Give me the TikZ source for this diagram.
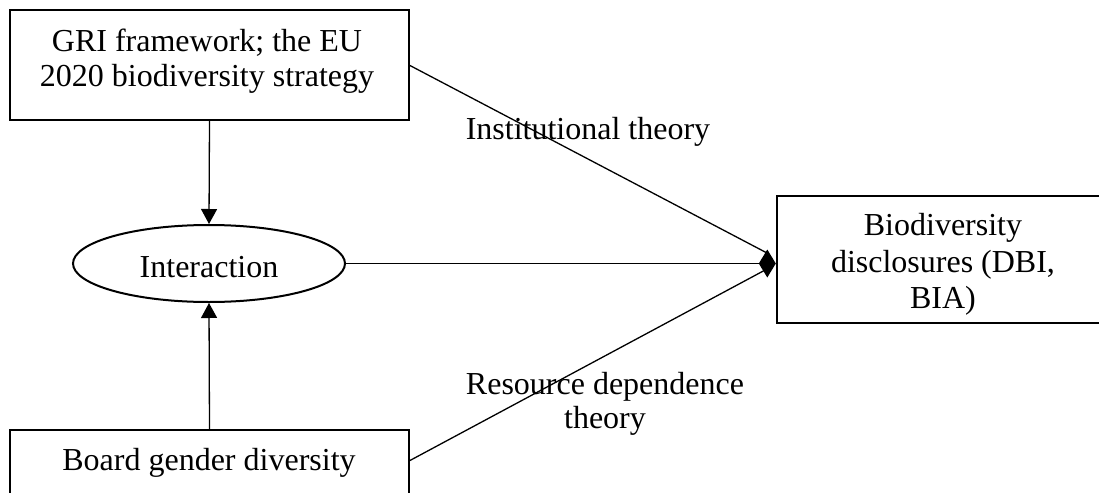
\documentclass[tikz,border=0pt]{standalone}
\usepackage{fontspec}
\setmainfont{Liberation Serif}
\usetikzlibrary{shapes.geometric,arrows.meta}
\begin{document}
\begin{tikzpicture}[x=0.5pt,y=-0.5pt,
  boxshape/.style={draw,line width=1.2pt,rectangle,inner sep=0pt},
  txt/.style={font=\fontsize{16pt}{18pt}\selectfont,inner sep=0pt,anchor=base},
  conn/.style={line width=0.65pt},
  vtip/.style={-{Triangle[length=7.5pt,width=8pt]}},
  dtip/.style={-{Diamond[length=8.5pt,width=14pt]}}]
\useasboundingbox (0,0) rectangle (1099,493);
\begin{scope}
\clip (0,0) rectangle (1099,493);
% boxes
\node[boxshape,minimum width=199.5pt,minimum height=55pt] (gri) at (209.5,65) {};
\node[boxshape,minimum width=166.5pt,minimum height=63.5pt] (bd) at (943.5,259.5) {};
\node[boxshape,minimum width=199.5pt,minimum height=55pt] (bg) at (209.5,485) {};
\node[draw,ellipse,line width=1pt,minimum width=136pt,minimum height=38.5pt,inner sep=0pt] (int) at (209,263.5) {};
\end{scope}
% texts
\node[txt] (gri1) at (207,51) {GRI framework; the EU};
\node[txt] (gri2) at (207,86) {2020 biodiversity strategy};
\node[txt] (intt) at (209,277) {Interaction};
\node[txt] (bgt) at (209,470) {Board gender diversity};
\node[txt] (bd1) at (943,235) {Biodiversity};
\node[txt] (bd2) at (943,272) {disclosures (DBI,};
\node[txt] (bd3) at (943,308) {BIA)};
\node[txt] (inst) at (588,139) {Institutional theory};
\node[txt] (rd1) at (605,394) {Resource dependence};
\node[txt] (rd2) at (605,428) {theory};
% connectors
\coordinate (s1) at (409,65);
\coordinate (s2) at (409,461);
\coordinate (j1) at (767,253);
\coordinate (j2) at (767,269);
\draw[conn,vtip] (gri.south) -- (int.north);
\draw[conn,vtip] (209.5,430) -- (int.south);
\draw[conn,dtip] (int.east) -- (int.east -| bd.west);
\draw[conn] (s1) -- (j1);
\draw[conn] (s2) -- (j2);
\end{tikzpicture}
\end{document}
